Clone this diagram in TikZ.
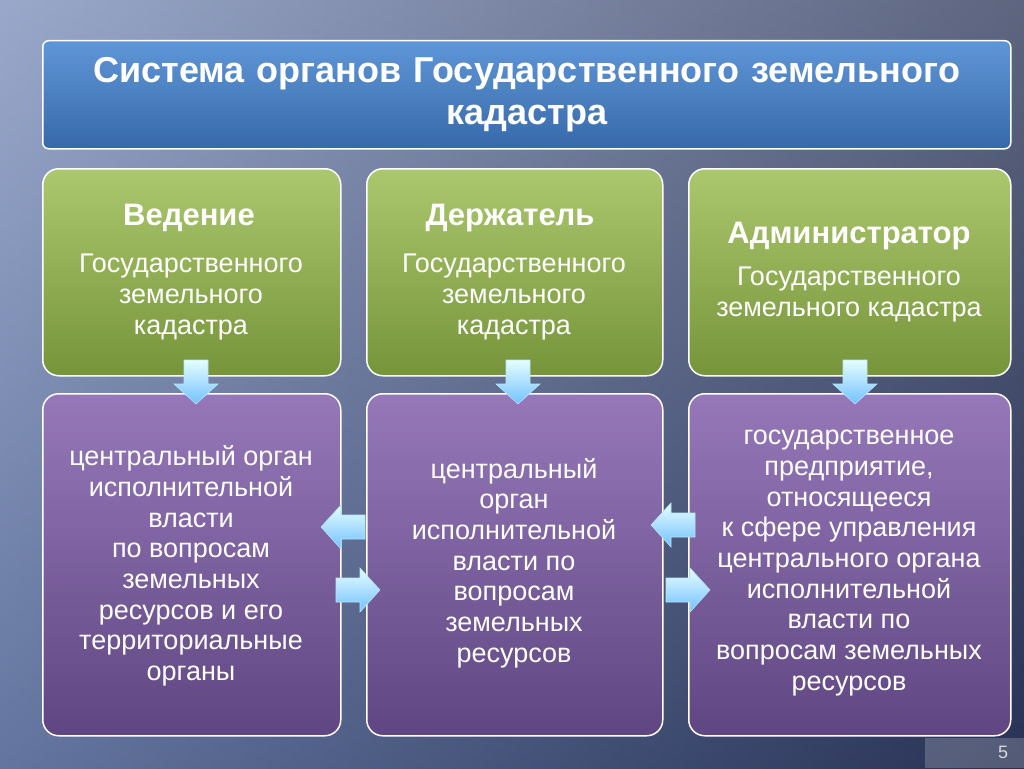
\documentclass[tikz,border=0pt]{standalone}
\usepackage{fontspec}
\setmainfont{Liberation Sans}
\definecolor{gtop}{RGB}{172,200,110}
\definecolor{gbot}{RGB}{118,148,58}
\definecolor{ptop}{RGB}{150,120,185}
\definecolor{pbot}{RGB}{95,70,130}
\definecolor{ttop}{RGB}{95,150,215}
\definecolor{tbot}{RGB}{55,105,170}
\definecolor{bgl}{RGB}{120,140,185}
\definecolor{bgr}{RGB}{40,50,85}
\begin{document}
\begin{tikzpicture}[x=1pt,y=-1pt,
 gbox/.style={draw=white,line width=1.5pt,rounded corners=16pt,top color=gtop,bottom color=gbot,minimum height=207pt,anchor=north west},
 pbox/.style={draw=white,line width=1.5pt,rounded corners=16pt,top color=ptop,bottom color=pbot,minimum height=342pt,anchor=north west},
 head/.style={font=\bfseries\fontsize{31}{34}\selectfont,text=white},
 sub/.style={font=\fontsize{27}{31}\selectfont,text=white,align=center},
 txt/.style={font=\fontsize{27}{30.7}\selectfont,text=white,align=center},
 arr/.style={draw=cyan!30!white,line width=0.6pt,top color=cyan!10!white,bottom color=cyan!55!blue!55!white}]
\newcommand\myarrow[3]{\begin{scope}[shift={(#1,#2)},rotate=#3]
 \path[arr] (-22,-12) -- (2,-12) -- (2,-22) -- (22,0) -- (2,22) -- (2,12) -- (-22,12) -- cycle;
 \end{scope}}
\useasboundingbox (0,0) rectangle (1024,768);
\shade[left color=bgl,right color=bgr] (0,0) rectangle (1024,768);
\shade[top color=white,bottom color=bgr,opacity=0.25] (0,0) rectangle (1024,768);
\node[draw=white,line width=1.5pt,rounded corners=6pt,top color=ttop,bottom color=tbot,minimum width=968pt,minimum height=108pt,anchor=north west,text width=960pt,align=center,font=\bfseries\fontsize{36}{42}\selectfont,text=white] (t) at (42,40) {Система органов Государственного земельного\\кадастра};
\node[gbox,minimum width=298pt] (g1) at (42,168) {};
\node[gbox,minimum width=296pt] (g2) at (366,168) {};
\node[gbox,minimum width=322pt] (g3) at (688,168) {};
\node[head] (h1) at (189,218) {Ведение};
\node[sub] at (191,297) {Государственного\\земельного\\кадастра};
\node[head] (h2) at (510,218) {Держатель};
\node[sub] at (514,297) {Государственного\\земельного\\кадастра};
\node[head] (h3) at (849,236) {Администратор};
\node[sub] at (849,295) {Государственного\\земельного кадастра};
\node[pbox,minimum width=298pt] (p1) at (42,393) {};
\node[pbox,minimum width=296pt] (p2) at (366,393) {};
\node[pbox,minimum width=322pt] (p3) at (688,393) {};
\node[txt] at (191,566) {центральный орган\\исполнительной\\власти\\по вопросам\\земельных\\ресурсов и его\\территориальные\\органы};
\node[txt] at (514,563) {центральный\\орган\\исполнительной\\власти по\\вопросам\\земельных\\ресурсов};
\node[txt] at (849,563) {государственное\\предприятие,\\относящееся\\к сфере управления\\центрального органа\\исполнительной\\власти по\\вопросам земельных\\ресурсов};
\myarrow{196}{382}{-90}
\myarrow{518}{382}{-90}
\myarrow{855}{382}{-90}
\myarrow{343}{527}{180}
\myarrow{358}{590}{0}
\myarrow{673}{525}{180}
\myarrow{688}{590}{0}
\fill[white,opacity=0.2] (925,738) rectangle (1024,768);
\node[font=\fontsize{18}{20}\selectfont,text=white!70!gray] (n) at (1003,752) {5};
\end{tikzpicture}
\end{document}
